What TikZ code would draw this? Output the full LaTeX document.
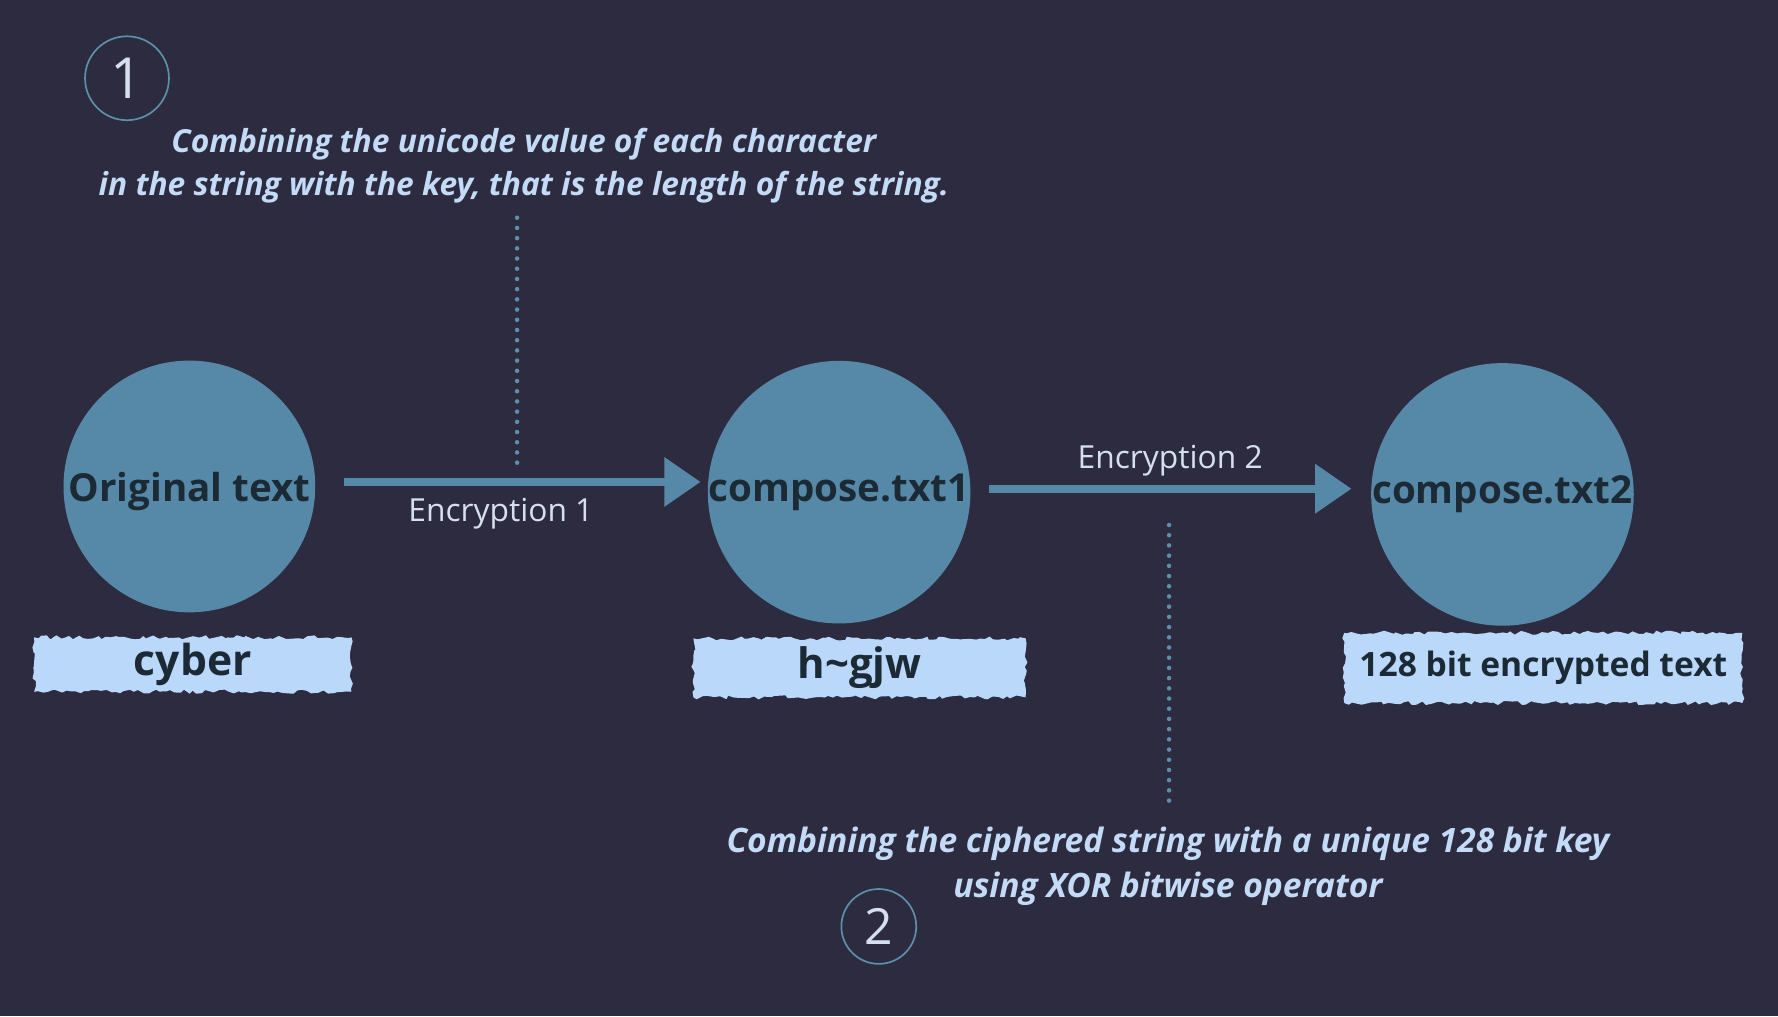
\documentclass[tikz,border=0pt]{standalone}
\usepackage{fontspec}
\setmainfont{Open Sans}
\usetikzlibrary{arrows.meta,decorations.pathmorphing}
\definecolor{bg}{HTML}{2D2B40}
\definecolor{disc}{HTML}{5689A8}
\definecolor{disctext}{HTML}{1B2A35}
\definecolor{note}{HTML}{C3DBF6}
\definecolor{brush}{HTML}{BAD8FA}
\definecolor{lbl}{HTML}{D6E0EC}
\definecolor{ring}{HTML}{5C8FAB}
\tikzset{
 disc/.style={circle, fill=disc, inner sep=0pt, text=disctext, font=\fontsize{17}{20}\selectfont\bfseries},
 arr/.style={draw=disc, line width=3.5pt, -{Triangle[length=16pt,width=21pt]}},
 dots/.style={draw=ring, line width=2pt, line cap=round, dash pattern=on 0pt off 4.5pt},
 notetext/.style={text=note, align=center},
 brushbox/.style={fill=brush, text=disctext, inner sep=0pt, decorate, decoration={random steps,segment length=2pt,amplitude=0.9pt}},
 numring/.style={circle, draw=ring, line width=0.75pt, inner sep=0pt, text=lbl},
 lbltext/.style={text=lbl, font=\fontsize{14}{16}\selectfont}
}
\begin{document}
\begin{tikzpicture}[x=0.5pt,y=-0.5pt]
\pgfmathsetseed{7}
\fill[bg] (0,0) rectangle (1568,896);
\useasboundingbox (0,0) rectangle (1568,896);

% number rings
\node[numring, minimum size=37pt, font=\fontsize{25}{25}\selectfont] (r1) at (112,69) {1};
\node[numring, minimum size=33pt, font=\fontsize{22}{22}\selectfont] (r2) at (775,817) {2};

% notes
\node[notetext, font=\fontsize{14}{19}\selectfont\bfseries\itshape] (n1) at (462,146) {Combining the unicode value of each character\\in the string with the key, that is the length of the string.};
\node[notetext, font=\fontsize{14.8}{19.5}\selectfont\bfseries\itshape] (n2) at (1030,764) {Combining the ciphered string with a unique 128 bit key\\using XOR bitwise operator};

% discs
\node[disc, minimum size=111pt, text depth=-2pt] (A) at (167,429) {Original text};
\node[disc, minimum size=113pt] (B) at (740,434) {compose.txt1};
\node[disc, minimum size=114pt] (C) at (1325,436) {compose.txt2};

% arrows
\draw[arr] ([shift={(25,-4)}]A.east) -- node[lbltext, pos=0.44, yshift=-14pt] (e1) {Encryption 1} ([shift={(-6,-9)}]B.west);
\draw[arr] ([shift={(16,-3)}]B.east) -- node[lbltext, pos=0.5, yshift=12.5pt] (e2) {Encryption 2} ([shift={(-17,-5)}]C.west);

% dotted leaders
\coordinate (d1s) at (456,192);
\coordinate (d1e) at (456,410);
\draw[dots] (d1s) -- (d1e);
\coordinate (d2s) at (1031,463);
\coordinate (d2e) at (1031,712);
\draw[dots] (d2s) -- (d2e);

% brush labels
\node[brushbox, minimum width=140pt, minimum height=24pt, font=\fontsize{18.8}{20}\selectfont\bfseries] (bA) at (170,586) {cyber};
\node[brushbox, minimum width=146.5pt, minimum height=26pt, font=\fontsize{18.5}{20}\selectfont\bfseries] (bB) at (758,589) {h\textasciitilde gjw};
\node[brushbox, minimum width=175.5pt, minimum height=31pt, font=\fontsize{14.8}{16}\selectfont\bfseries] (bC) at (1361,589) {128 bit encrypted text};
\end{tikzpicture}
\end{document}
